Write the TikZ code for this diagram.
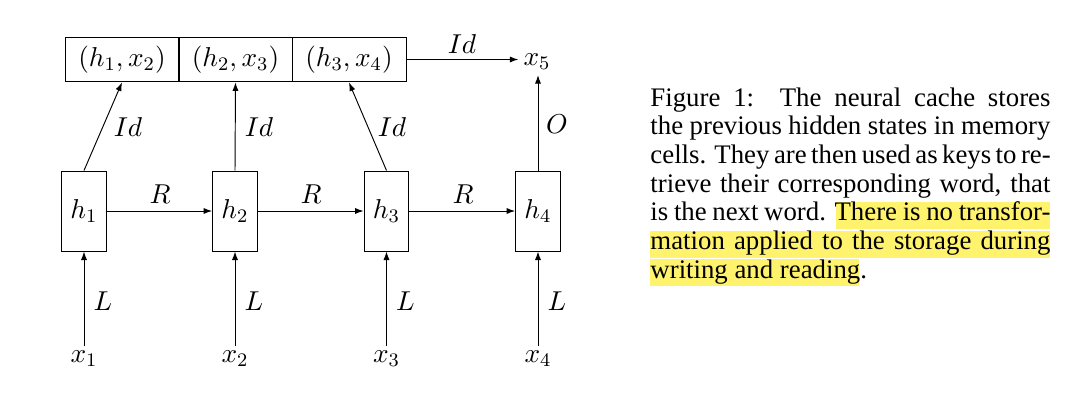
\documentclass[tikz,border=0pt]{standalone}
\usepackage{fix-cm}
\usepackage[no-math]{fontspec}
\newfontfamily\capfont{Liberation Serif}
\usetikzlibrary{arrows.meta}
\newcommand\dfont{\fontsize{11.5}{13.8}\selectfont}
\definecolor{hlyellow}{RGB}{255,243,110}
\tikzset{
  cell/.style={draw, line width=0.4pt, minimum width=48pt, minimum height=18.9pt, inner sep=0pt, font=\dfont},
  hnode/.style={draw, line width=0.4pt, minimum width=18.9pt, minimum height=33.7pt, inner sep=0pt, font=\dfont},
  xlab/.style={inner sep=2pt, font=\dfont},
  lab/.style={inner sep=0pt, font=\dfont},
  arr/.style={line width=0.4pt, -{Latex[length=3.6pt,width=2.6pt]}},
  capline/.style={anchor=base west, inner sep=0pt, font=\capfont\fontsize{11.28}{13.5}\selectfont},
  hl/.style={fill=hlyellow, draw=none}
}
\begin{document}
\begin{tikzpicture}[x=0.421pt,y=-0.421pt]
\useasboundingbox (0,0) rectangle (1092,405);
% cache cells
\node[cell] (c1) at (122,59.5) {$(h_1,x_2)$};
\node[cell] (c2) at (235.5,59.5) {$(h_2,x_3)$};
\node[cell] (c3) at (349,59.5) {$(h_3,x_4)$};
% hidden states
\node[hnode] (h1) at (84,211) {$h_1$};
\node[hnode] (h2) at (235,211) {$h_2$};
\node[hnode] (h3) at (386.5,211) {$h_3$};
\node[hnode] (h4) at (538,211) {$h_4$};
% inputs
\node[xlab] (x1) at (84,359) {$x_1$};
\node[xlab] (x2) at (235,359) {$x_2$};
\node[xlab] (x3) at (386.5,359) {$x_3$};
\node[xlab] (x4) at (538,359) {$x_4$};
\node[xlab] (x5) at (537,62) {$x_5$};
% connectors
\draw[arr] (h1) -- (h2);
\draw[arr] (h2) -- (h3);
\draw[arr] (h3) -- (h4);
\draw[arr] (x1) -- (h1);
\draw[arr] (x2) -- (h2);
\draw[arr] (x3) -- (h3);
\draw[arr] (x4) -- (h4);
\draw[arr] (h1.north) -- (c1.south);
\draw[arr] (h2.north) -- (c2.south);
\draw[arr] (h3.north) -- (c3.south);
\draw[arr] (c3.east) -- (x5.west |- c3.east);
\draw[arr] (h4.north) -- (h4.north |- x5.south);
% labels
\node[lab] (r1) at (160,194) {$R$};
\node[lab] (r2) at (311,194) {$R$};
\node[lab] (r3) at (463,194) {$R$};
\node[lab] (l1) at (103,301) {$L$};
\node[lab] (l2) at (254,301) {$L$};
\node[lab] (l3) at (405.5,301) {$L$};
\node[lab] (l4) at (557,301) {$L$};
\node[lab] (i1) at (128,127) {$Id$};
\node[lab] (i2) at (259,127) {$Id$};
\node[lab] (i3) at (392,127) {$Id$};
\node[lab] (i4) at (462,44) {$Id$};
\node[lab] (o1) at (557,124) {$O$};
% caption highlight
\fill[hl] (836,202) rectangle (1050,229);
\fill[hl] (650,230.5) rectangle (1050,257.5);
\fill[hl] (650,259.2) rectangle (859,286.2);
% caption
\node[capline] (t1) at (650,106) {\makebox[168.4pt][s]{Figure 1:\ \ The neural cache stores}};
\node[capline] (t2) at (650,134.7) {\makebox[168.4pt][s]{the previous hidden states in memory}};
\node[capline] (t3) at (650,163.4) {\makebox[168.4pt][s]{cells. They are then used as keys to re-}};
\node[capline] (t4) at (650,192.1) {\makebox[168.4pt][s]{trieve their corresponding word, that}};
\node[capline] (t5) at (650,220.8) {\makebox[168.4pt][s]{is the next word. There is no transfor-}};
\node[capline] (t6) at (650,249.5) {\makebox[168.4pt][s]{mation applied to the storage during}};
\node[capline] (t7) at (650,278.2) {writing and reading.};
\end{tikzpicture}
\end{document}
